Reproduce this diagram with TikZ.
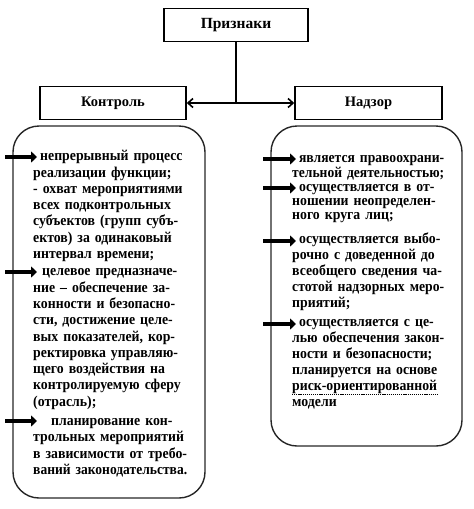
\documentclass[tikz,border=0pt]{standalone}
\usepackage{fontspec}
\usepackage{graphicx}
\setmainfont{Liberation Serif}
\newfontfamily\bodyfont{Liberation Serif}[FakeStretch=0.92]
\usetikzlibrary{arrows.meta}
\makeatletter
\newsavebox\lbox
\newcommand\fitline[2]{\sbox\lbox{#2}\ifdim\wd\lbox>#1\relax\scalebox{\strip@pt\dimexpr 1pt*\dimexpr#1\relax/\wd\lbox\relax}[1]{\usebox\lbox}\else\makebox[#1][s]{#2}\fi}
\makeatother
\newcommand\jL[1]{\fitline{154pt}{#1}}
\newcommand\jR[1]{\fitline{152pt}{#1}}
\tikzset{
  hdr/.style={draw=black, line width=1.6pt, minimum width=144pt, minimum height=33pt, inner sep=0pt, font=\bfseries\fontsize{14.5}{16}\selectfont},
  rbox/.style={draw=black!85, line width=1.4pt, rounded corners=26pt, inner sep=0pt},
  txtL/.style={anchor=north west, inner sep=0pt, text width=154pt, align=left, font=\bodyfont\bfseries\fontsize{15}{16.3}\selectfont},
  txtR/.style={anchor=north west, inner sep=0pt, text width=152pt, align=left, font=\bodyfont\bfseries\fontsize{15}{16}\selectfont},
  barrow/.style={line width=4.5pt, -{Triangle[length=6pt,width=11pt]}},
  link/.style={line width=1.6pt},
  wavy/.style={line width=0.8pt, dash pattern=on 1.2pt off 0.9pt}
}
\begin{document}
\begin{tikzpicture}[x=1pt,y=-1pt]
\useasboundingbox (0,0) rectangle (474,509);
\node[hdr, font=\bfseries\fontsize{15.5}{17}\selectfont] (pr) at (236,25) {Признаки};
\node[hdr, minimum width=146pt] (kn) at (113,103) {Контроль};
\node[hdr, minimum width=147pt] (nd) at (368.5,103) {Надзор};
\draw[link] (pr.south) -- (pr.south |- kn.east);
\draw[link, {Straight Barb[length=5pt,width=9pt]}-{Straight Barb[length=5pt,width=9pt]}] (kn.east) -- (nd.west);
\node[rbox, minimum width=192pt, minimum height=372pt] (lb) at (109,312) {};
\node[rbox, minimum width=191pt, minimum height=320pt] (rb) at (366.5,286) {};
\node[txtL] (lt) at (33,148.5) {\rule{0pt}{12pt}\jL{\hspace*{7pt}непрерывный процесс}\\
реализации функции;\\
\jL{- охват мероприятиями}\\
\jL{всех подконтрольных}\\
\jL{субъектов (групп субъ-}\\
\jL{ектов) за одинаковый}\\
интервал времени;\\[1pt]
\jL{\hspace*{9pt}целевое предназначе-}\\
\jL{ние – обеспечение за-}\\
\jL{конности и безопасно-}\\
\jL{сти, достижение целе-}\\
\jL{вых показателей, кор-}\\
\jL{ректировка управляю-}\\
\jL{щего воздействия на}\\
\jL{контролируемую сферу}\\
(отрасль);\\[3pt]
\jL{\hspace*{18pt}планирование кон-}\\
\jL{трольных мероприятий}\\
\jL{в зависимости от требо-}\\
\jL{ваний законодательства.}};
\node[txtR] (rt) at (292,150.5) {\rule{0pt}{12pt}\jR{\hspace*{7pt}является правоохрани-}\\[-1.7pt]
\jR{тельной деятельностью;}\\[-1.7pt]
\jR{\hspace*{7pt}осуществляется в от-}\\[-1.7pt]
\jR{ношении неопределен-}\\[-1.7pt]
ного круга лиц;\\[8pt]
\jR{\hspace*{7pt}осуществляется выбо-}\\
\jR{рочно с доведенной до}\\
\jR{всеобщего сведения ча-}\\
\jR{стотой надзорных меро-}\\
приятий;\\[3pt]
\jR{\hspace*{7pt}осуществляется с це-}\\
\jR{лью обеспечения закон-}\\
\jR{ности и безопасности;}\\
\jR{планируется на основе}\\
\mbox{риск-ориентированной}\\
модели};
\coordinate (u1) at (292,394); \coordinate (u2) at (437,394);
\draw[wavy] (u1) -- (u2);
\coordinate (l1s) at (5,157);  \coordinate (l1e) at (37,157);
\coordinate (l2s) at (5,272);  \coordinate (l2e) at (37,272);
\coordinate (l3s) at (5,421);  \coordinate (l3e) at (37,421);
\coordinate (r1s) at (263,159); \coordinate (r1e) at (296,159);
\coordinate (r2s) at (263,188); \coordinate (r2e) at (296,188);
\coordinate (r3s) at (263,241); \coordinate (r3e) at (296,241);
\coordinate (r4s) at (263,324); \coordinate (r4e) at (296,324);
\foreach \a in {l1,l2,l3,r1,r2,r3,r4} {\draw[barrow] (\a s) -- (\a e);}
\end{tikzpicture}
\end{document}
